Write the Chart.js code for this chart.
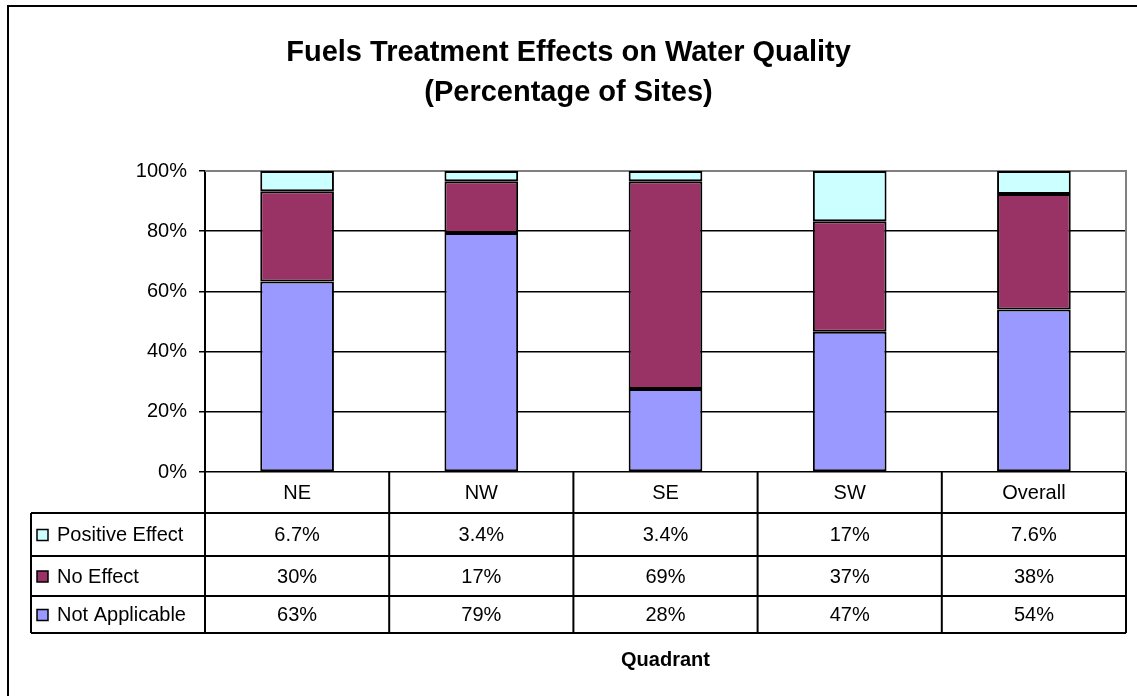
<!DOCTYPE html>
<html>
<head>
<meta charset="utf-8">
<script src="https://cdn.jsdelivr.net/npm/chart.js@4.4.0/dist/chart.umd.min.js"></script>
<style>
  html, body { margin: 0; padding: 0; background: #fff; }
  canvas { display: block; }
</style>
</head>
<body>
<canvas id="myChart" width="1137" height="696"></canvas>
<script>
// chart data
const categories = ['NE', 'NW', 'SE', 'SW', 'Overall'];
const notApplicable = [63.3, 79.4, 27.6, 46.6, 54.0];
const noEffect = [30.0, 17.2, 69.0, 36.7, 38.4];
const positiveEffect = [6.7, 3.4, 3.4, 16.7, 7.6];
const yTicks = [0, 20, 40, 60, 80, 100];
const titleLines = ['Fuels Treatment Effects on Water Quality', '(Percentage of Sites)'];
const xTitle = 'Quadrant';

const FONT = "'Liberation Sans', Arial, sans-serif";
const colors = { notApplicable: '#9999FF', noEffect: '#993366', positiveEffect: '#CCFFFF' };

// rows of the data table, top to bottom
const tableRows = [
    { label: 'Positive Effect', color: colors.positiveEffect, values: positiveEffect },
    { label: 'No Effect', color: colors.noEffect, values: noEffect },
    { label: 'Not Applicable', color: colors.notApplicable, values: notApplicable }
];

function fmt(v) {
    return Number(v.toPrecision(2)) + '%';
}

const frame = {
    id: 'frame',
    beforeDraw(chart) {
        const ctx = chart.ctx;
        ctx.save();
        ctx.fillStyle = '#fff';
        ctx.fillRect(0, 0, chart.width, chart.height);
        ctx.strokeStyle = '#000';
        ctx.lineWidth = 2;
        ctx.strokeRect(8, 6, chart.width + 20, chart.height + 20);
        ctx.restore();
    },
    beforeDatasetsDraw(chart) {
        // grey plot area border (top and right)
        const { ctx, chartArea: a } = chart;
        ctx.save();
        ctx.strokeStyle = '#808080';
        ctx.lineWidth = 2;
        ctx.beginPath();
        ctx.moveTo(a.left, a.top);
        ctx.lineTo(a.right, a.top);
        ctx.lineTo(a.right, a.bottom);
        ctx.stroke();
        ctx.restore();
    },
    afterDraw(chart) {
        const { ctx, chartArea: a } = chart;
        const x = chart.scales.x;
        const half = (x.getPixelForValue(1) - x.getPixelForValue(0)) / 2;
        const edges = categories.map((c, i) => x.getPixelForValue(i) - half);
        edges.push(x.getPixelForValue(categories.length - 1) + half);
        const tableLeft = 31;
        const rowLines = [a.bottom, 513, 556, 596, 633];
        const bottom = rowLines[rowLines.length - 1];

        ctx.save();

        // title
        ctx.fillStyle = '#000';
        ctx.font = 'bold 29px ' + FONT;
        ctx.textAlign = 'center';
        ctx.textBaseline = 'alphabetic';
        ctx.fillText(titleLines[0], chart.width / 2, 61);
        ctx.fillText(titleLines[1], chart.width / 2, 101);

        // table grid
        ctx.strokeStyle = '#000';
        ctx.lineWidth = 2;
        ctx.beginPath();
        for (let r = 1; r < rowLines.length; r++) {
            ctx.moveTo(tableLeft, rowLines[r]);
            ctx.lineTo(edges[edges.length - 1], rowLines[r]);
        }
        ctx.moveTo(tableLeft, rowLines[1]);
        ctx.lineTo(tableLeft, bottom);
        edges.forEach(e => {
            ctx.moveTo(e, a.bottom);
            ctx.lineTo(e, bottom);
        });
        ctx.stroke();

        // header labels
        ctx.font = '20px ' + FONT;
        ctx.textBaseline = 'middle';
        ctx.textAlign = 'center';
        categories.forEach((c, i) => {
            ctx.fillText(c, x.getPixelForValue(i), (rowLines[0] + rowLines[1]) / 2 + 1);
        });

        // rows
        tableRows.forEach((row, r) => {
            const yc = (rowLines[r + 1] + rowLines[r + 2]) / 2 + 1;
            ctx.fillStyle = row.color;
            ctx.fillRect(37, yc - 6, 11, 11);
            ctx.lineWidth = 1.5;
            ctx.strokeRect(37, yc - 6, 11, 11);
            ctx.fillStyle = '#000';
            ctx.textAlign = 'left';
            ctx.fillText(row.label, 57, yc);
            ctx.textAlign = 'center';
            row.values.forEach((v, i) => {
                ctx.fillText(fmt(v), x.getPixelForValue(i), yc);
            });
        });

        // axis title
        ctx.font = 'bold 20px ' + FONT;
        ctx.fillText(xTitle, (a.left + a.right) / 2, 660);

        ctx.restore();
    }
};

const ctx = document.getElementById('myChart').getContext('2d');
const chartInstance = new Chart(ctx, {
    type: 'bar',
    data: {
        labels: categories,
        datasets: [
            { label: 'Not Applicable', data: notApplicable, backgroundColor: colors.notApplicable },
            { label: 'No Effect', data: noEffect, backgroundColor: colors.noEffect },
            { label: 'Positive Effect', data: positiveEffect, backgroundColor: colors.positiveEffect }
        ].map(d => Object.assign(d, {
            borderColor: '#000',
            borderWidth: 2,
            borderSkipped: false,
            barPercentage: 0.4,
            categoryPercentage: 1
        }))
    },
    options: {
        responsive: false,
        animation: false,
        devicePixelRatio: 1,
        layout: { padding: { left: 0, top: 171, right: 11, bottom: 216 } },
        plugins: {
            legend: { display: false },
            title: { display: false },
            tooltip: { enabled: false }
        },
        scales: {
            x: {
                stacked: true,
                ticks: { display: false },
                grid: { display: false },
                border: { display: false }
            },
            y: {
                stacked: true,
                min: 0,
                max: 100,
                afterBuildTicks: scale => { scale.ticks = yTicks.map(v => ({ value: v })); },
                afterFit: scale => { scale.width = 205; },
                ticks: {
                    padding: 12,
                    color: '#000',
                    font: { family: FONT, size: 20 },
                    callback: v => v + '%'
                },
                grid: { color: '#000', lineWidth: 1.5, tickLength: 6, tickColor: '#000' },
                border: { color: '#000', width: 2 }
            }
        }
    },
    plugins: [frame]
});
</script>
</body>
</html>
